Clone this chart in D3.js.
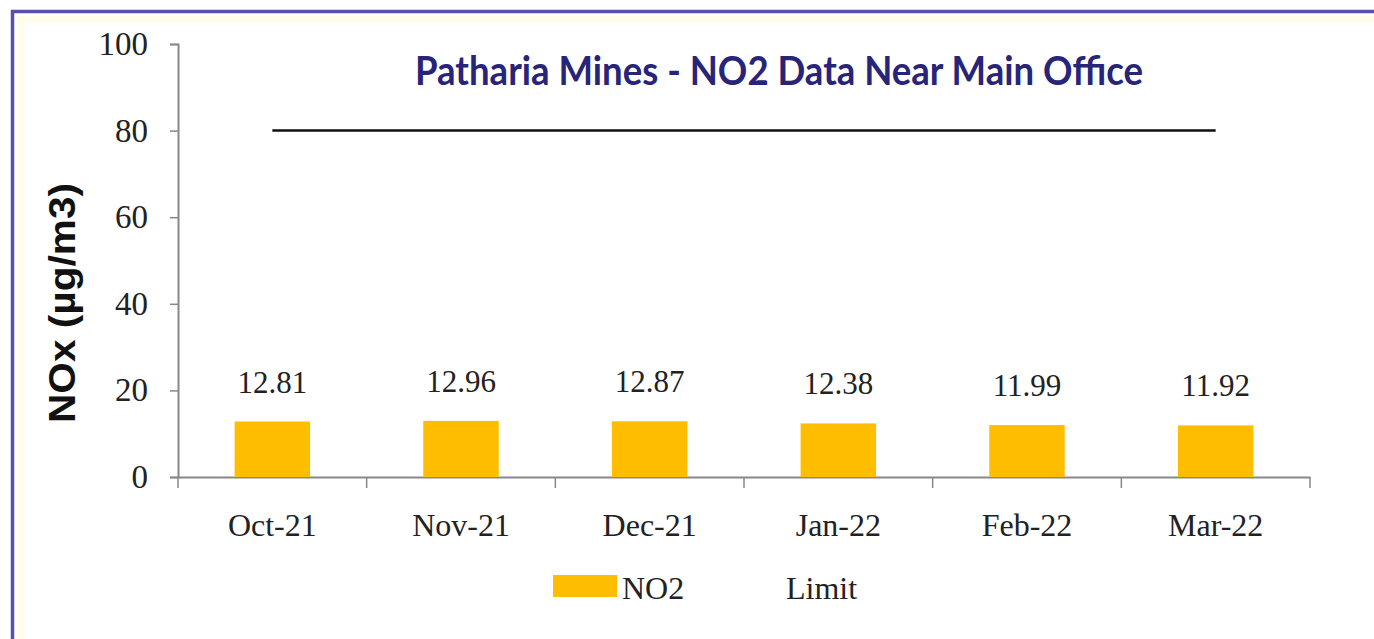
<!DOCTYPE html>
<html lang="en">
<head>
  <meta charset="UTF-8">
  <title>Patharia Mines - NO2</title>
  <script src="https://d3js.org/d3.v7.min.js"></script>
  <style>
    body { margin: 0; background: #fff; }
    .serif { font-family: "Liberation Serif", "DejaVu Serif", serif; fill: #222; }
  </style>
</head>
<body>
  <div id="chart"></div>
  <script>
    const width = 1374, height = 639;

    // data
    const months = ["Oct-21", "Nov-21", "Dec-21", "Jan-22", "Feb-22", "Mar-22"];
    const no2 = [12.81, 12.96, 12.87, 12.38, 11.99, 11.92];
    const limit = [80, 80, 80, 80, 80, 80];
    const yTicks = [0, 20, 40, 60, 80, 100];

    const svg = d3.select("#chart").append("svg")
      .attr("width", width)
      .attr("height", height);

    // purple frame (top and left only, the rest is cropped off)
    svg.append("path")
      .attr("d", `M20.5,${height} V19.5 H${width}`)
      .attr("fill", "none")
      .attr("stroke", "#fffdea")
      .attr("stroke-width", 7);
    svg.append("path")
      .attr("d", `M12.5,${height} V11.5 H${width}`)
      .attr("fill", "none")
      .attr("stroke", "#5a4fae")
      .attr("stroke-width", 3.5);

    const x = d3.scaleBand().domain(months).range([178, 1310]);
    const y = d3.scaleLinear().domain([0, 100]).range([477, 44]);
    const barW = x.bandwidth() * 0.4;

    // y axis
    const yAxis = svg.append("g")
      .attr("transform", "translate(178,0)")
      .call(d3.axisLeft(y).tickValues(yTicks).tickSize(8).tickPadding(22));
    yAxis.select(".domain").attr("stroke", "#888").attr("stroke-width", 2);
    yAxis.selectAll(".tick line").attr("stroke", "#888").attr("stroke-width", 1.5);
    yAxis.selectAll(".tick text")
      .attr("class", "serif")
      .attr("font-size", "33px");

    // x axis: labels at band centres, ticks at band edges
    const xAxis = svg.append("g")
      .attr("transform", "translate(0,477)")
      .call(d3.axisBottom(x).tickSize(0).tickPadding(36));
    xAxis.select(".domain").attr("stroke", "#888").attr("stroke-width", 2);
    xAxis.selectAll(".tick text")
      .attr("class", "serif")
      .attr("font-size", "32px");
    svg.append("g").selectAll("line")
      .data(months.concat([null]))
      .join("line")
      .attr("x1", d => d === null ? x.range()[1] : x(d))
      .attr("x2", d => d === null ? x.range()[1] : x(d))
      .attr("y1", 477)
      .attr("y2", 488)
      .attr("stroke", "#888")
      .attr("stroke-width", 1.5);

    // bars
    svg.append("g").selectAll("rect")
      .data(months)
      .join("rect")
      .attr("x", d => x(d) + (x.bandwidth() - barW) / 2)
      .attr("y", (d, i) => y(no2[i]))
      .attr("width", barW)
      .attr("height", (d, i) => y(0) - y(no2[i]))
      .attr("fill", "#ffbd00");

    // value labels
    svg.append("g").selectAll("text")
      .data(months)
      .join("text")
      .attr("class", "serif")
      .attr("x", d => x(d) + x.bandwidth() / 2)
      .attr("y", (d, i) => y(no2[i]) - 29)
      .attr("text-anchor", "middle")
      .attr("font-size", "31px")
      .text((d, i) => no2[i].toFixed(2));

    // limit line
    const line = d3.line()
      .x((d, i) => x(months[i]) + x.bandwidth() / 2)
      .y(d => y(d));
    svg.append("path")
      .datum(limit)
      .attr("d", line)
      .attr("fill", "none")
      .attr("stroke", "#111")
      .attr("stroke-width", 2.5);

    // title
    svg.append("text")
      .attr("x", 779)
      .attr("y", 85)
      .attr("text-anchor", "middle")
      .attr("font-family", "Lato, 'Open Sans', sans-serif")
      .attr("font-weight", "bold")
      .attr("font-size", "40px")
      .attr("fill", "#272479")
      .attr("textLength", 728)
      .attr("lengthAdjust", "spacingAndGlyphs")
      .text("Patharia Mines - NO2 Data Near Main Office");

    // y axis title
    svg.append("text")
      .attr("transform", "translate(75,303) rotate(-90)")
      .attr("text-anchor", "middle")
      .attr("font-family", "'Liberation Sans', Arial, sans-serif")
      .attr("font-weight", "bold")
      .attr("font-size", "36px")
      .attr("fill", "#111")
      .attr("textLength", 240)
      .attr("lengthAdjust", "spacingAndGlyphs")
      .text("NOx (µg/m3)");

    // legend
    const legend = svg.append("g");
    legend.append("rect")
      .attr("x", 553).attr("y", 575)
      .attr("width", 64).attr("height", 22)
      .attr("fill", "#ffbd00");
    legend.append("text")
      .attr("class", "serif")
      .attr("x", 622).attr("y", 599)
      .attr("font-size", "32px")
      .text("NO2");
    legend.append("text")
      .attr("class", "serif")
      .attr("x", 786).attr("y", 599)
      .attr("font-size", "32px")
      .text("Limit");
  </script>
</body>
</html>
